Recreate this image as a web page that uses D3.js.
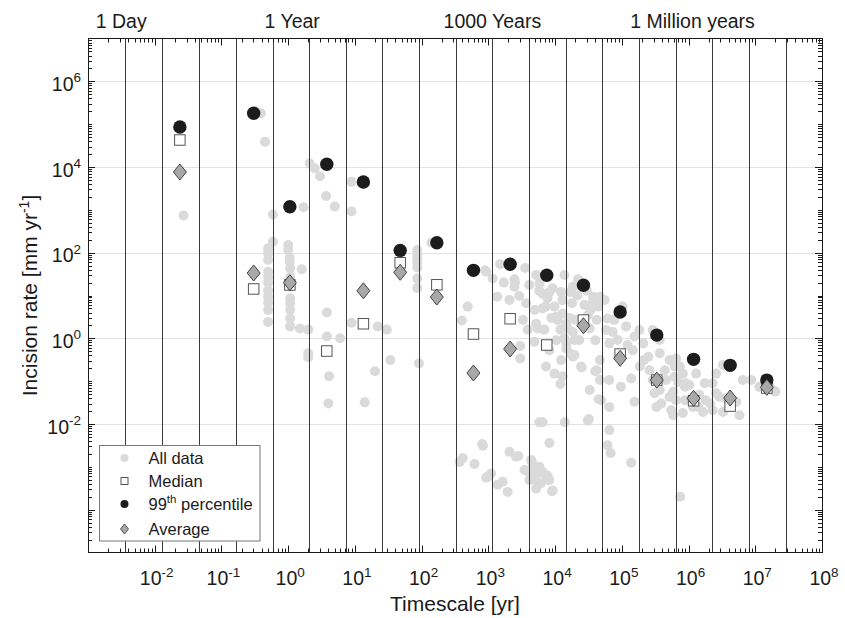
<!DOCTYPE html>
<html>
<head>
<meta charset="utf-8">
<script src="https://cdn.jsdelivr.net/npm/d3@7"></script>
<style>
  body { margin: 0; background: #fff; }
  text { font-family: "Liberation Sans", Arial, Helvetica, sans-serif; fill: #1a1a1a; }
</style>
</head>
<body>
<div id="chart"></div>
<script>
// bin edges [yr] (vertical lines) and bin centres
var binEdges = [0.00358, 0.01285, 0.0456, 0.163, 0.586, 2.05, 7.28, 25.7, 91.2, 324, 1146,
  4064, 14420, 50930, 180700, 641000, 2.27e6, 8.13e6, 2.88e7]
var binTimescale = [0.0238, 0.304, 1.06, 3.79, 13.4, 47.7, 169, 598, 2120, 7500, 26600,
  94400, 334000, 1.19e6, 4.2e6, 1.49e7]

// summary rates per bin [mm/yr]
var pct99Rate = [8.6e4, 1.8e5, 1180, 1.16e4, 4450, 113, 171, 38.7, 53.5, 29.6, 17.3,
  4.11, 1.19, 0.323, 0.234, 0.106]
var medianRate = [4.27e4, 14.2, 17.6, 0.505, 2.19, 58.2, 17.8, 1.26, 2.87, 0.698, 2.67,
  0.43, 0.106, 0.0349, 0.0262, 0.069]
var avgRate = [7640, 33.5, 19.9, null, 12.9, 34.8, 9.2, 0.155, 0.562, null, 1.97,
  0.341, 0.106, 0.0397, 0.0404, 0.0718]

// all data [timescale yr, rate mm/yr]
var allData = [
  [0.027, 740],
  [0.39, 1.8e5], [0.45, 3.9e4], [0.59, 780], [0.59, 180],
  [0.5, 126], [0.5, 97], [0.5, 68], [0.5, 36], [0.5, 27], [0.5, 20], [0.5, 13], [0.5, 9.4],
  [0.5, 6.8], [0.5, 4.6], [0.5, 2.4],
  [1.0, 150], [1.0, 115], [1.05, 76], [1.05, 61], [1.07, 43], [1.07, 27], [1.07, 16],
  [1.07, 8.6], [1.07, 6.6], [1.07, 4.6], [1.07, 2.9], [1.07, 1.9],
  [1.6, 41], [1.5, 1.7], [2.0, 1.6], [2.0, 0.45], [2.0, 0.36],
  [1.7, 1150], [2.1, 1.2e4], [2.5, 9300], [3.0, 6100], [3.7, 2100], [5.0, 1200], [8.9, 4500], [8.9, 920],
  [3.8, 4.0], [3.8, 1.1], [6.0, 1.0], [4.1, 0.13], [4.0, 0.03], [8.9, 2.3], [22, 1.9], [30, 1.6],
  [20, 0.17], [34, 0.31], [14, 0.032], [91, 0.26],
  [86, 115], [86, 90], [86, 72], [86, 57], [86, 45], [86, 25], [86, 15],
  [140, 170], [490, 5.5], [400, 2.6],
  [895, 39], [1160, 25], [1500, 54], [1360, 9.4], [2460, 24], [2460, 16], [2900, 9.7], [3560, 44],
  [3700, 6.6], [5830, 19], [6500, 11], [7200, 5.5], [9200, 14.7], [13800, 30], [18400, 16],
  [5200, 2.2], [10400, 3.2], [14700, 2.2],
  [930, 36], [2500, 20], [3300, 2.7], [3000, 0.66], [3000, 0.34], [5200, 30], [5800, 13], [6500, 5.0],
  [4900, 0.83], [5500, 1.7], [8200, 12], [9800, 5.5], [11000, 2.7], [12000, 1.6], [10400, 0.9],
  [7300, 0.22], [9800, 0.15], [12000, 0.086], [17000, 12], [18000, 6.6], [15500, 1.7], [19500, 0.41],
  [25000, 0.21], [37000, 7.2], [34000, 4.6], [40000, 0.9], [40000, 0.17], [45000, 0.038],
  [31000, 0.012], [14000, 0.011], [6500, 0.011], [5800, 0.011], [8200, 0.0036],
  [14700, 0.58], [17400, 0.43], [19500, 0.91],
  [4100, 17.6], [7700, 8.7], [8800, 3.0], [12900, 7.8], [16400, 3.0], [21600, 10], [23000, 0.91],
  [33000, 1.7], [13800, 1.0], [6900, 1.6], [8200, 0.53], [3900, 1.6], [2070, 7.9], [1700, 20],
  [4950, 4.6], [20000, 2.7], [22000, 24], [30000, 13], [47000, 9.3], [55000, 7.9], [77000, 2.7],
  [86000, 0.91], [122000, 0.7], [183000, 1.56], [215000, 0.31], [370000, 0.91], [440000, 0.18],
  [700000, 0.095], [1.03e6, 0.081], [1.45e6, 0.048], [4.2e6, 0.025], [47000, 0.106], [33000, 0.062],
  [414, 0.0016], [370, 0.0013], [620, 0.00116], [807, 0.0034], [830, 0.0031], [980, 0.00059],
  [1100, 0.0007], [1380, 0.00038], [1640, 0.00045], [1950, 0.00026], [2070, 0.00225], [2610, 0.00172],
  [4380, 0.00144], [4600, 0.00092], [5800, 0.001], [5500, 0.0007], [6500, 0.00077], [7300, 0.00059],
  [4130, 0.00049], [6100, 0.00041], [8200, 0.00049], [9200, 0.00028], [5200, 0.00031], [3480, 0.00084],
  [930, 0.00056], [2800, 0.0018], [4500, 0.0013], [4000, 0.00077], [7700, 0.00062], [5000, 0.00051],
  [9000, 0.00027],
  [12300, 12], [13000, 3.8], [27500, 6.0], [37000, 9.4], [44000, 5.5], [31000, 3.5], [42000, 2.7],
  [18500, 1.4], [14700, 0.76], [18500, 0.37], [12300, 0.31], [13000, 0.13], [24500, 0.22],
  [42000, 0.18], [47000, 0.31], [58000, 1.56], [65000, 0.76], [61000, 2.9], [73000, 1.4],
  [65000, 0.106], [97000, 0.074], [138000, 0.116], [49000, 0.036], [65000, 0.025], [155000, 0.033],
  [32000, 0.013], [65000, 0.0072], [61000, 0.0032], [68000, 0.0021], [138000, 0.00125],
  [750000, 0.0002], [116000, 1.9], [155000, 1.1], [146000, 0.53], [186000, 0.22], [210000, 0.76],
  [250000, 0.37], [290000, 1.56], [370000, 0.45], [260000, 0.18], [290000, 0.106], [310000, 0.052],
  [330000, 0.025], [390000, 0.030], [460000, 0.106], [520000, 0.31], [620000, 0.22], [620000, 0.127],
  [590000, 0.057], [550000, 0.021], [650000, 0.036], [820000, 0.018], [920000, 0.089],
  [880000, 0.036], [1.3e6, 0.15], [1.4e6, 0.025], [103000, 5.5],
  [590000, 0.016], [1.16e6, 0.025], [1.65e6, 0.019], [2.3e6, 0.021], [3.3e6, 0.019], [5.8e6, 0.016],
  [2.6e6, 0.052], [1.8e6, 0.036], [3.6e6, 0.04], [6.5e6, 0.106], [8.7e6, 0.106], [1.15e7, 0.074],
  [1.8e7, 0.062], [2.0e7, 0.057], [1.6e7, 0.081], [2.6e6, 0.15], [3.3e6, 0.24], [650000, 0.34],
  [820000, 0.15], [520000, 0.043], [370000, 0.062],
  [740000, 0.22], [880000, 0.074], [1.75e6, 0.089], [2.3e6, 0.089], [2.9e6, 0.043], [2.1e6, 0.03],
  [5.2e6, 0.033]
]

// tick labels (exponents) and the time labels on top
var xLabelExp = [-2, -1, 0, 1, 2, 3, 4, 5, 6, 7, 8]
var yLabelExp = [6, 4, 2, 0, -2]
var topLabels = ['1 Day', '1 Year', '1000 Years', '1 Million years']
var topLabelAt = [1 / 365, 1, 1000, 1e6]

var W = 845, H = 618
var plotL = 88, plotR = 822, plotT = 38.5, plotB = 552.5

var svg = d3.select('#chart').append('svg')
  .attr('width', W).attr('height', H)

var x = d3.scaleLog().domain([1e-3, 1e8]).range([plotL, plotR])
var y = d3.scaleLog().domain([1e-5, 1e7]).range([plotB, plotT])
var crisp = function(v){ return Math.round(v) + 0.5 }

// light horizontal grid at labelled decades
svg.append('g').selectAll('line')
  .data(yLabelExp).enter().append('line')
  .attr('x1', plotL).attr('x2', plotR)
  .attr('y1', function(d){ return crisp(y(Math.pow(10, d))) })
  .attr('y2', function(d){ return crisp(y(Math.pow(10, d))) })
  .attr('stroke', '#e2e2e2').attr('stroke-width', 1)

// all data points
svg.append('g').selectAll('circle')
  .data(allData).enter().append('circle')
  .attr('cx', function(d){ return x(d[0]) })
  .attr('cy', function(d){ return y(d[1]) })
  .attr('r', 5)
  .attr('fill', '#dadada')

// bin edge lines
svg.append('g').selectAll('line')
  .data(binEdges).enter().append('line')
  .attr('x1', function(d){ return crisp(x(d)) })
  .attr('x2', function(d){ return crisp(x(d)) })
  .attr('y1', plotT).attr('y2', plotB)
  .attr('stroke', '#3a3a3a').attr('stroke-width', 1)

// median squares
var sq = 10.5
svg.append('g').selectAll('rect')
  .data(binTimescale.map(function(t, i){ return [t, medianRate[i]] })).enter()
  .append('rect')
  .attr('x', function(d){ return x(d[0]) - sq / 2 })
  .attr('y', function(d){ return y(d[1]) - sq / 2 })
  .attr('width', sq).attr('height', sq)
  .attr('fill', '#fff').attr('stroke', '#555').attr('stroke-width', 1)

// 99th percentile
svg.append('g').selectAll('circle')
  .data(binTimescale.map(function(t, i){ return [t, pct99Rate[i]] })).enter()
  .append('circle')
  .attr('cx', function(d){ return x(d[0]) })
  .attr('cy', function(d){ return y(d[1]) })
  .attr('r', 6.7)
  .attr('fill', '#1c1c1c')

// average diamonds
var diamond = function(cx, cy, w, h){
  return 'M' + cx + ',' + (cy - h / 2) + 'L' + (cx + w / 2) + ',' + cy +
    'L' + cx + ',' + (cy + h / 2) + 'L' + (cx - w / 2) + ',' + cy + 'Z'
}
svg.append('g').selectAll('path')
  .data(binTimescale.map(function(t, i){ return [t, avgRate[i]] })
    .filter(function(d){ return d[1] != null })).enter()
  .append('path')
  .attr('d', function(d){ return diamond(x(d[0]), y(d[1]), 13, 16) })
  .attr('fill', '#a8a8a8').attr('stroke', '#333').attr('stroke-width', 0.9)

// axes box
svg.append('rect')
  .attr('x', plotL + 0.5).attr('y', plotT)
  .attr('width', plotR - plotL).attr('height', plotB - plotT)
  .attr('fill', 'none').attr('stroke', '#1a1a1a').attr('stroke-width', 1)

// inward ticks on all four sides
var ticks = svg.append('g').attr('stroke', '#1a1a1a').attr('stroke-width', 1)
for (var e = -3; e <= 7; e++) {
  for (var k = 1; k <= 9; k++) {
    var v = k * Math.pow(10, e)
    if (v <= 1e-3 || v >= 1e8) continue
    var px = crisp(x(v)), len = k == 1 ? 7 : 4
    ticks.append('line').attr('x1', px).attr('x2', px).attr('y1', plotB).attr('y2', plotB - len)
    ticks.append('line').attr('x1', px).attr('x2', px).attr('y1', plotT).attr('y2', plotT + len)
  }
}
for (var e = -5; e <= 6; e++) {
  for (var k = 1; k <= 9; k++) {
    var v = k * Math.pow(10, e)
    if (v <= 1e-5 || v >= 1e7) continue
    var py = crisp(y(v)), len = (k == 1 && e % 2 == 0) ? 7 : 4
    ticks.append('line').attr('y1', py).attr('y2', py).attr('x1', plotL).attr('x2', plotL + len)
    ticks.append('line').attr('y1', py).attr('y2', py).attr('x1', plotR).attr('x2', plotR - len)
  }
}

// tick labels
var powerLabel = function(sel, d){
  sel.append('tspan').text('10')
  sel.append('tspan').attr('dy', -8.5).attr('font-size', 13.5).text(d)
}
svg.append('g').selectAll('text')
  .data(xLabelExp).enter().append('text')
  .attr('x', function(d){ return x(Math.pow(10, d)) + 2 })
  .attr('y', 585)
  .attr('text-anchor', 'middle')
  .attr('font-size', 19.5)
  .each(function(d){ powerLabel(d3.select(this), d) })

svg.append('g').selectAll('text')
  .data(yLabelExp).enter().append('text')
  .attr('x', 81)
  .attr('y', function(d){ return y(Math.pow(10, d)) + 9.5 })
  .attr('text-anchor', 'end')
  .attr('font-size', 19.5)
  .each(function(d){ powerLabel(d3.select(this), d) })

// axis titles
svg.append('text')
  .attr('x', (plotL + plotR) / 2).attr('y', 611)
  .attr('text-anchor', 'middle').attr('font-size', 21)
  .text('Timescale [yr]')

var yt = svg.append('text')
  .attr('transform', 'translate(37,' + (plotT + plotB) / 2 + ') rotate(-90)')
  .attr('text-anchor', 'middle').attr('font-size', 21)
yt.append('tspan').text('Incision rate [mm yr')
yt.append('tspan').attr('dy', -8).attr('font-size', 14).text('-1')
yt.append('tspan').attr('dy', 8).text(']')

// time labels above the plot
svg.append('g').selectAll('text')
  .data(topLabels).enter().append('text')
  .attr('x', function(d, i){ return x(topLabelAt[i]) + 4 })
  .attr('y', 28)
  .attr('text-anchor', 'middle').attr('font-size', 19.5)
  .text(function(d){ return d })

// legend
var lg = svg.append('g').attr('transform', 'translate(99.5,445.5)')
lg.append('rect').attr('width', 160.5).attr('height', 95.5)
  .attr('fill', '#fff').attr('stroke', '#777').attr('stroke-width', 1)
var rows = [12.5, 35.5, 58.5, 83.5]
lg.append('circle').attr('cx', 25).attr('cy', rows[0]).attr('r', 4).attr('fill', '#dadada')
lg.append('rect').attr('x', 21.5).attr('y', rows[1] - 3.5).attr('width', 7).attr('height', 7)
  .attr('fill', '#fff').attr('stroke', '#555')
lg.append('circle').attr('cx', 25).attr('cy', rows[2]).attr('r', 4).attr('fill', '#1c1c1c')
lg.append('path').attr('d', diamond(25, rows[3], 8, 10))
  .attr('fill', '#a8a8a8').attr('stroke', '#333').attr('stroke-width', 0.8)

var lt = lg.append('g').attr('font-size', 16.5)
lt.append('text').attr('x', 49).attr('y', rows[0] + 6).text('All data')
lt.append('text').attr('x', 49).attr('y', rows[1] + 6).text('Median')
var pt = lt.append('text').attr('x', 49).attr('y', rows[2] + 6)
pt.append('tspan').text('99')
pt.append('tspan').attr('dy', -7).attr('font-size', 11.5).text('th')
pt.append('tspan').attr('dy', 7).text(' percentile')
lt.append('text').attr('x', 49).attr('y', rows[3] + 6).text('Average')
</script>
</body>
</html>
